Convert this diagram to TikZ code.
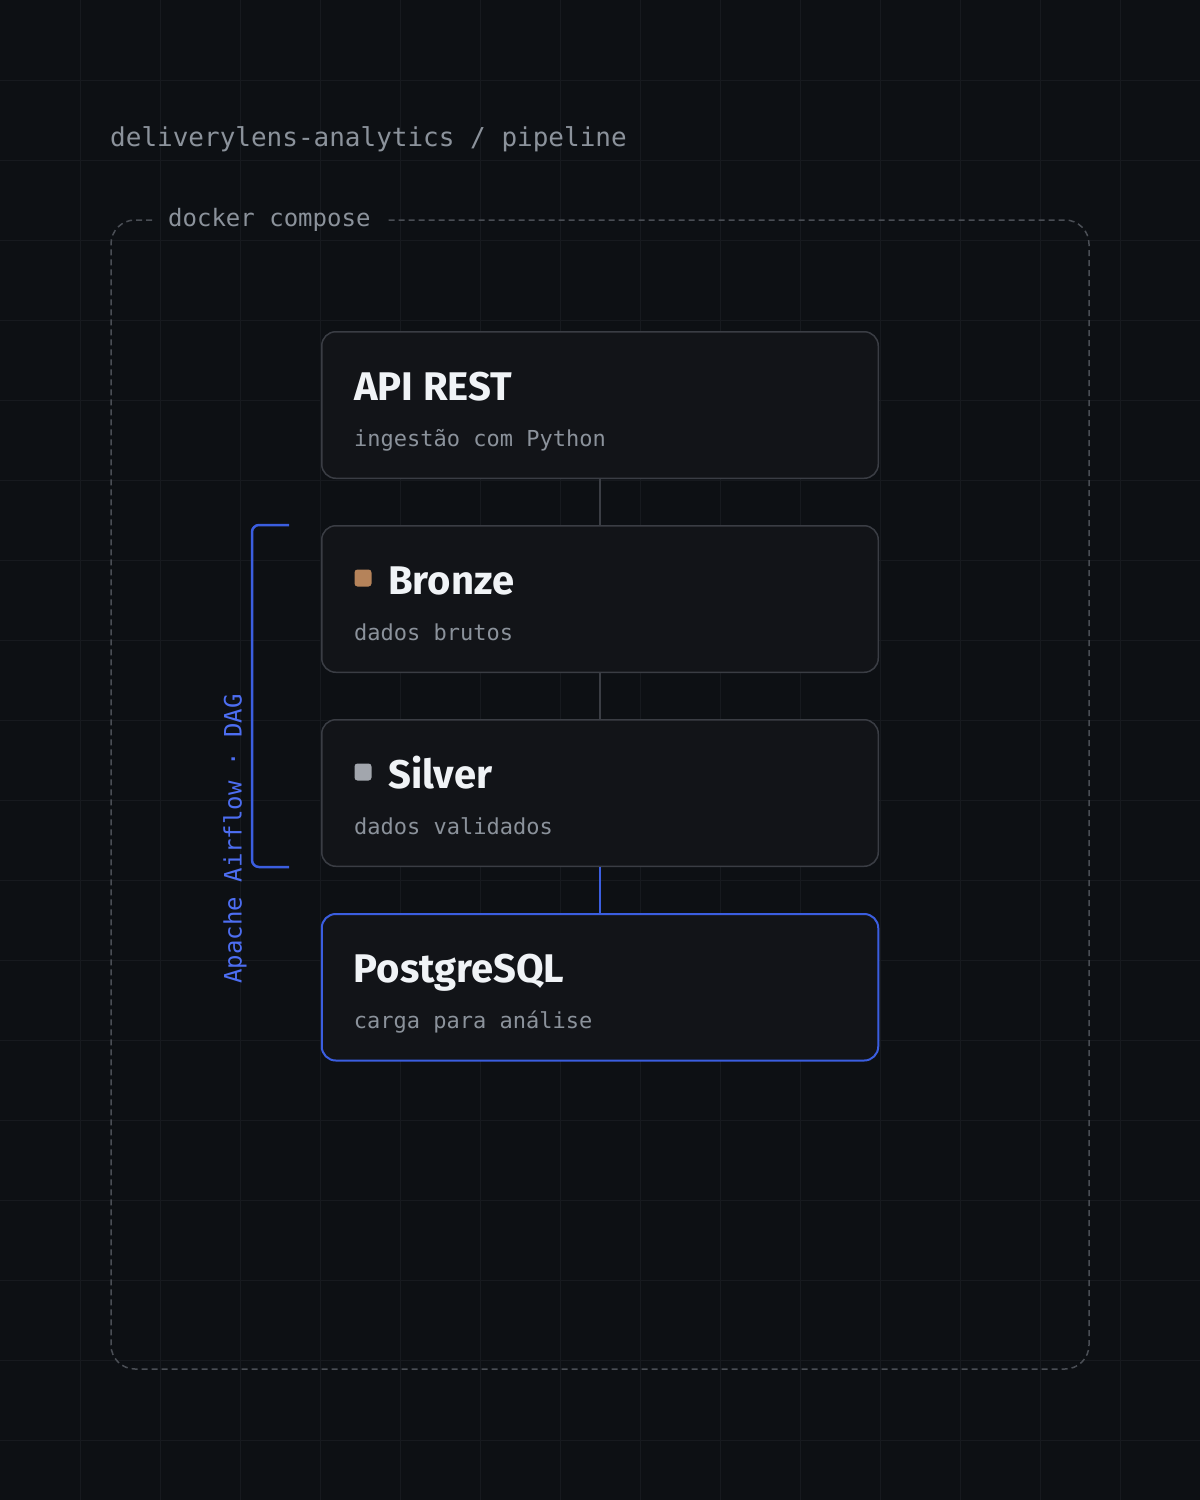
\documentclass[tikz,border=0pt]{standalone}
\usepackage{fontspec}
\setmainfont{Fira Sans}
\newfontfamily\codefont{DejaVu Sans Mono}
\usetikzlibrary{positioning}

\definecolor{pagebg}{HTML}{0D1014}
\definecolor{gridcol}{HTML}{171A1F}
\definecolor{cardbg}{HTML}{121418}
\definecolor{cardline}{HTML}{3A3D44}
\definecolor{frameline}{HTML}{4A4E55}
\definecolor{muted}{HTML}{8B929B}
\definecolor{heading}{HTML}{F0F3F6}
\definecolor{accent}{HTML}{3B5EE0}
\definecolor{accenttext}{HTML}{4D6EF2}
\definecolor{bronzedot}{HTML}{B5835A}
\definecolor{silverdot}{HTML}{A2A6AD}

\begin{document}
\begin{tikzpicture}[
        x=1pt, y=-1pt,
        node distance=46pt,
        card/.style={rectangle, draw=cardline, line width=1.5pt, fill=cardbg, rounded corners=14pt, minimum width=556.5pt, minimum height=146.5pt},
        target/.style={card, draw=accent, line width=2pt},
        cardtitle/.style={anchor=base west, inner sep=0pt, text=heading, font=\fontsize{40}{46}\selectfont\bfseries},
        cardnote/.style={anchor=base west, inner sep=0pt, text=muted, font=\codefont\fontsize{22}{26}\selectfont},
        dot/.style={rectangle, rounded corners=3pt, minimum size=17pt, inner sep=0pt},
        link/.style={draw=cardline, line width=1.5pt},
        bracket/.style={draw=accent, line width=2.5pt, rounded corners=7pt}
    ]

        % background and grid
        \fill[pagebg] (0,0) rectangle (1200,1500);
        \useasboundingbox (0,0) rectangle (1200,1500);
        \foreach \gx in {80,160,...,1120} \draw[gridcol, line width=1pt] (\gx,0) -- (\gx,1500);
        \foreach \gy in {80,160,...,1440} \draw[gridcol, line width=1pt] (0,\gy) -- (1200,\gy);

        \node[anchor=base west, inner sep=0pt, text=muted, font=\codefont\fontsize{26}{30}\selectfont] (title) at (110,146) {deliverylens-analytics / pipeline};

        % docker compose frame
        \node[anchor=west, inner sep=0pt, text=muted, font=\codefont\fontsize{24}{28}\selectfont] (compose) at (168,220) {docker compose};
        \draw[draw=frameline, line width=1.5pt, dash pattern=on 6pt off 4pt, rounded corners=24pt]
            ([xshift=18pt]compose.east |- 0,220) -- (1089,220) -- (1089,1369) -- (111,1369) -- (111,220) -- ([xshift=-15pt]compose.west |- 0,220);

        % stages
        \node[card] (api) at (600,405) {};
        \node[card, below=of api] (bronze) {};
        \node[card, below=of bronze] (silver) {};
        \node[target, below=of silver] (postgres) {};

        \node[cardtitle] (apititle) at ([xshift=33pt, yshift=-69pt]api.north west) {API REST};
        \node[cardnote] (apinote) at ([xshift=33pt, yshift=-115pt]api.north west) {ingestão com Python};

        \node[dot, fill=bronzedot] (bronzedot) at ([xshift=42pt, yshift=-53pt]bronze.north west) {};
        \node[cardtitle] (bronzetitle) at ([xshift=67pt, yshift=-69pt]bronze.north west) {Bronze};
        \node[cardnote] (bronzenote) at ([xshift=33pt, yshift=-115pt]bronze.north west) {dados brutos};

        \node[dot, fill=silverdot] (silverdot) at ([xshift=42pt, yshift=-53pt]silver.north west) {};
        \node[cardtitle] (silvertitle) at ([xshift=67pt, yshift=-69pt]silver.north west) {Silver};
        \node[cardnote] (silvernote) at ([xshift=33pt, yshift=-115pt]silver.north west) {dados validados};

        \node[cardtitle] (pgtitle) at ([xshift=33pt, yshift=-69pt]postgres.north west) {PostgreSQL};
        \node[cardnote] (pgnote) at ([xshift=33pt, yshift=-115pt]postgres.north west) {carga para análise};

        % links
        \draw[link] (api) -- (bronze);
        \draw[link] (bronze) -- (silver);
        \draw[link, draw=accent] (silver) -- (postgres);

        % airflow bracket
        \coordinate (dagtop) at ([xshift=-32pt]bronze.north west);
        \coordinate (dagbottom) at ([xshift=-32pt]silver.south west);
        \draw[bracket] (dagtop) -- ++(-37,0) |- (dagbottom);
        \node[rotate=90, inner sep=0pt, text=accenttext, font=\codefont\fontsize{24}{28}\selectfont] (daglabel) at (235,839) {Apache Airflow · DAG};
    \end{tikzpicture}
\end{document}
